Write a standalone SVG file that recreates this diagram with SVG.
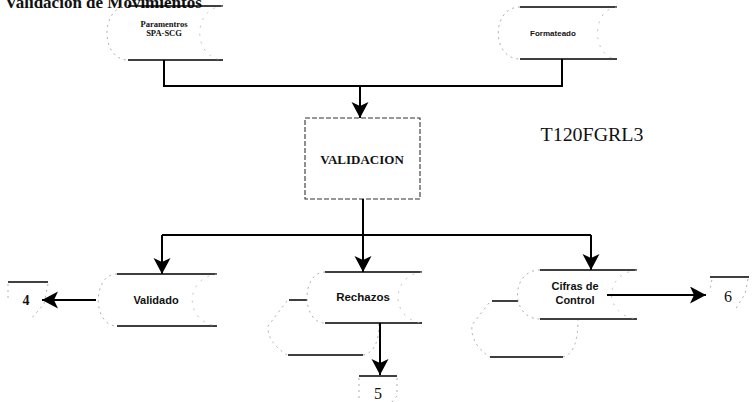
<svg xmlns="http://www.w3.org/2000/svg" width="752" height="402" viewBox="0 0 752 402">
  <style>
    .edge { stroke: #000; stroke-width: 1.6; fill: none; }
    .faint { stroke: #999; stroke-width: 0.8; fill: none; stroke-dasharray: 2 4; }
    .inner { stroke: #b5b5b5; stroke-width: 0.8; fill: none; stroke-dasharray: 2 6; }
    .conn { stroke: #000; stroke-width: 2; fill: none; }
    .lbl { font-family: "Liberation Sans", Arial, sans-serif; font-weight: bold; fill: #111; text-anchor: middle; }
    .ser { font-family: "Liberation Serif", "Times New Roman", serif; fill: #111; text-anchor: middle; }
  </style>
  <defs>
    <marker id="arrow" markerUnits="userSpaceOnUse" markerWidth="18" markerHeight="18" refX="16" refY="8.5" orient="auto">
      <path d="M0,0 L16,8.5 L0,17 L4,8.5 z" fill="#000"/>
    </marker>
  </defs>

  <rect width="752" height="402" fill="#fff"/>

  <!-- page title (top edge clipped by the page) -->
  <text x="5" y="8" font-family="Liberation Serif, Times New Roman, serif" font-weight="bold" font-size="17" fill="#111">Validación de Movimientos</text>

  <!-- input: Paramentros SPA-SCG -->
  <g id="parametros">
    <path class="edge" d="M128,6 H223 M128,60 H223"/>
    <path class="faint" d="M128,6 C100,6 100,60 128,60"/>
    <path class="inner" d="M223,6 C192,8 192,58 223,60"/>
    <text class="ser" x="164" y="27" font-size="8.5" font-weight="bold">Paramentros</text>
    <text class="ser" x="164" y="36" font-size="8.5" font-weight="bold">SPA-SCG</text>
  </g>

  <!-- input: Formateado -->
  <g id="formateado">
    <path class="edge" d="M520,7 H617 M520,59 H617"/>
    <path class="faint" d="M520,7 C491,7 491,59 520,59"/>
    <path class="inner" d="M617,7 C591,9 591,57 617,59"/>
    <text class="lbl" x="553" y="36" font-size="8">Formateado</text>
  </g>

  <!-- process box -->
  <g id="validacion">
    <rect x="305" y="118" width="115" height="81" fill="#fff" stroke="#333" stroke-width="1.1" stroke-dasharray="5 2"/>
    <text class="ser" x="362" y="164" font-size="13" font-weight="bold">VALIDACION</text>
  </g>

  <!-- program id -->
  <g id="programa">
    <text class="ser" x="592" y="141" font-size="18" textLength="103" lengthAdjust="spacingAndGlyphs">T120FGRL3</text>
  </g>

  <!-- output: Validado -->
  <g id="validado">
    <path class="edge" d="M117,274 H217 M117,326 H217"/>
    <path class="faint" d="M117,274 C92,274 92,326 117,326"/>
    <path class="inner" d="M217,274 C184,278 184,322 217,326"/>
    <text class="lbl" x="156" y="304" font-size="11">Validado</text>
  </g>

  <!-- output: Rechazos (stacked) -->
  <g id="rechazos">
    <path class="edge" d="M289,300 H307 M288,355 H363"/>
    <path class="faint" d="M287,301 L268,326 Q267,342 287,355 M363,355 Q379,352 379,323"/>
    <path class="edge" d="M325,272 H422 M325,323 H422"/>
    <path class="faint" d="M325,272 C301,272 301,323 325,323"/>
    <path class="inner" d="M422,272 C390,276 390,319 422,323"/>
    <text class="lbl" x="363" y="301" font-size="11.5">Rechazos</text>
  </g>

  <!-- output: Cifras de Control (stacked) -->
  <g id="cifras">
    <path class="edge" d="M492,301 H518 M490,357 H563"/>
    <path class="faint" d="M489,303 L472,325 Q470,344 490,357 M563,357 Q578,353 578,320"/>
    <path class="edge" d="M540,270 H637 M540,319 H637"/>
    <path class="faint" d="M540,270 C510,270 510,319 540,319"/>
    <path class="inner" d="M637,270 C603,274 603,315 637,319"/>
    <text class="lbl" x="575" y="290" font-size="11">Cifras de</text>
    <text class="lbl" x="575" y="304" font-size="11">Control</text>
  </g>

  <!-- off-page connectors -->
  <g id="conector-4">
    <path class="edge" d="M8,282 H48"/>
    <path class="faint" d="M8,284 V300 M48,284 L44,304 L30,320"/>
    <text class="ser" x="26" y="305" font-size="14" font-weight="bold">4</text>
  </g>
  <g id="conector-5">
    <path class="edge" d="M359,376 H397"/>
    <path class="faint" d="M359,378 V400 M397,378 V396 L392,402"/>
    <text class="ser" x="378" y="399" font-size="16">5</text>
  </g>
  <g id="conector-6">
    <path class="edge" d="M710,277 H749"/>
    <path class="faint" d="M712,280 Q709,286 712,292 M748,279 L745,294 L735,310"/>
    <text class="ser" x="728" y="302" font-size="16">6</text>
  </g>

  <!-- connectors -->
  <g id="connectors">
    <path class="conn" d="M164,60 V86 H562 V59"/>
    <path class="conn" d="M360,86 V118" marker-end="url(#arrow)"/>
    <path class="conn" d="M363,199 V235"/>
    <path class="conn" d="M162,235 H591"/>
    <path class="conn" d="M162,235 V274" marker-end="url(#arrow)"/>
    <path class="conn" d="M363,235 V272" marker-end="url(#arrow)"/>
    <path class="conn" d="M591,235 V270" marker-end="url(#arrow)"/>
    <path class="conn" d="M96,300 H42" marker-end="url(#arrow)"/>
    <path class="conn" d="M380,323 V375" marker-end="url(#arrow)"/>
    <path class="conn" d="M607,295 H706" marker-end="url(#arrow)"/>
  </g>
</svg>
